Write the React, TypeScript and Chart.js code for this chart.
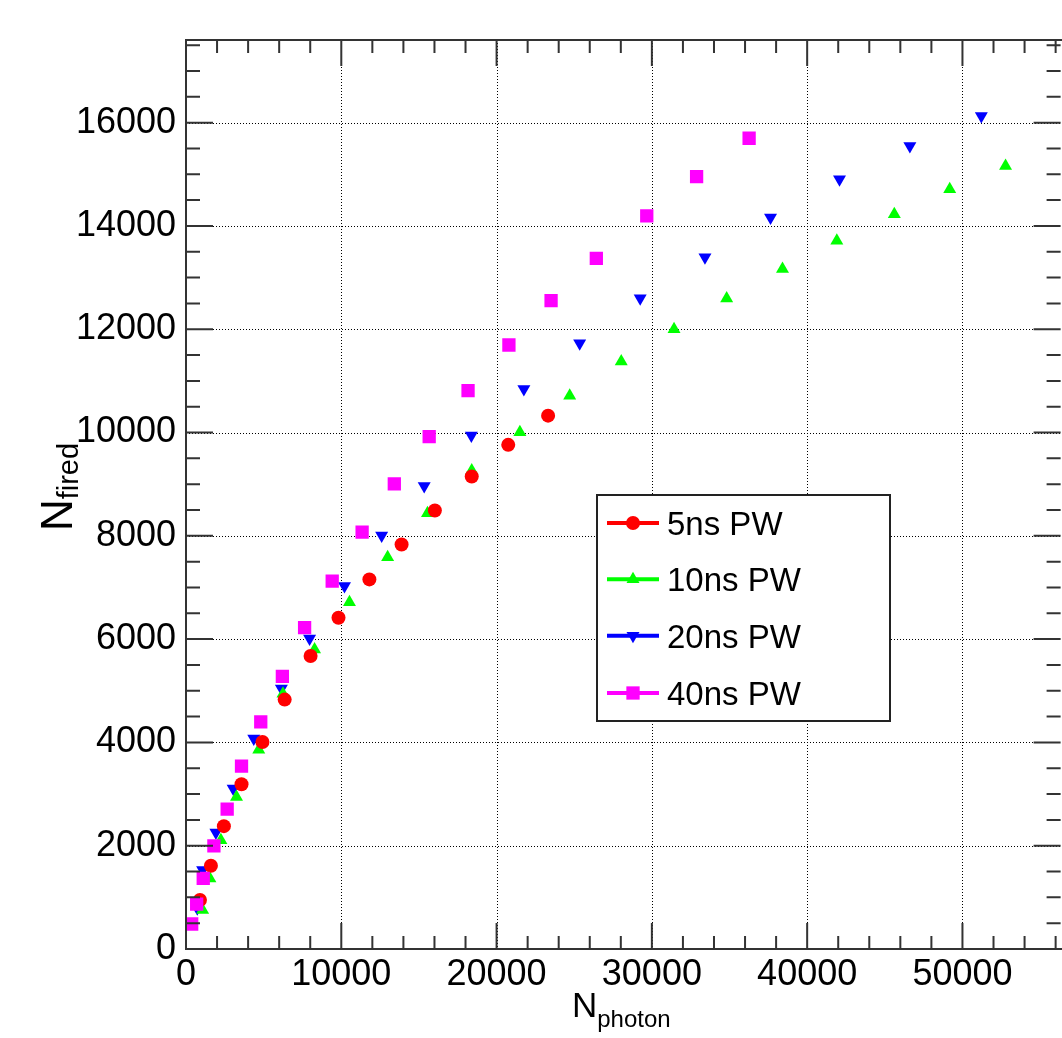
import React, { useEffect, useRef } from 'react';
import { Chart, registerables } from 'chart.js';

Chart.register(...registerables);

// ---------------- data ----------------
const seriesLabels = ['5ns PW', '10ns PW', '20ns PW', '40ns PW'];
const seriesColors = ['#ff0000', '#00ff00', '#0000ff', '#ff00ff'];

const pw5X = [899, 1604, 2439, 3575, 4923, 6354, 8023, 9820, 11809, 13882, 16026, 18400, 20750, 23317];
const pw5Y = [948, 1611, 2379, 3191, 4009, 4829, 5672, 6415, 7156, 7833, 8490, 9148, 9761, 10327];

const pw10X = [1071, 1540, 2246, 3254, 4685, 6245, 8279, 10526, 12984, 15551, 18400, 21500, 24709, 28027, 31428, 34817, 38411, 41910, 45612, 49181, 52775];
const pw10Y = [753, 1364, 2107, 2944, 3859, 4942, 5801, 6716, 7586, 8437, 9263, 10003, 10713, 11376, 12001, 12595, 13165, 13711, 14225, 14709, 15161];

const pw20X = [725, 1071, 1925, 3036, 4364, 6142, 7958, 10205, 12599, 15339, 18375, 21757, 25351, 29247, 33419, 37641, 42083, 46614, 51216];
const pw20Y = [789, 1529, 2258, 3109, 4076, 5043, 6010, 7029, 8008, 8963, 9942, 10845, 11729, 12599, 13392, 14165, 14906, 15550, 16130];

const pw40X = [366, 687, 1110, 1797, 2651, 3575, 4814, 6206, 7637, 9415, 11341, 13414, 15660, 18163, 20794, 23509, 26423, 29671, 32880, 36262];
const pw40Y = [484, 870, 1367, 1998, 2708, 3539, 4396, 5280, 6222, 7123, 8071, 9006, 9921, 10811, 11695, 12552, 13370, 14195, 14955, 15698];

const xTickValues = [0, 10000, 20000, 30000, 40000, 50000];
const yTickValues = [0, 2000, 4000, 6000, 8000, 10000, 12000, 14000, 16000];
const xMinorStep = 2000;
const yMinorStep = 500;
const xMax = 56320;
const yMax = 17600;

const xTitleMain = 'N';
const xTitleSub = 'photon';
const yTitleMain = 'N';
const yTitleSub = 'fired';

// ---------------- layout/style ----------------
const W = 1070;
const H = 1038;
const FONT = '"Liberation Sans", Arial, Helvetica, sans-serif';
const PLOT_LEFT = 186;
const PLOT_TOP = 40;
const PLOT_BOTTOM = 949;
const PLOT_RIGHT = 1063.5;

type Marker = { style: string; radius: number; rotation: number };
const markers: Marker[] = [
  { style: 'circle', radius: 7, rotation: 0 },
  { style: 'triangle', radius: 7.5, rotation: 0 },
  { style: 'triangle', radius: 7.5, rotation: 180 },
  { style: 'rect', radius: 9.4, rotation: 0 },
];

function drawMarker(ctx: CanvasRenderingContext2D, m: Marker, x: number, y: number, color: string) {
  ctx.save();
  ctx.fillStyle = color;
  ctx.beginPath();
  if (m.style === 'circle') {
    ctx.arc(x, y, m.radius, 0, Math.PI * 2);
  } else if (m.style === 'rect') {
    const s = m.radius * Math.SQRT1_2;
    ctx.rect(x - s, y - s, 2 * s, 2 * s);
  } else {
    let rad = (m.rotation * Math.PI) / 180;
    ctx.moveTo(x + Math.sin(rad) * m.radius, y - Math.cos(rad) * m.radius);
    rad += (2 * Math.PI) / 3;
    ctx.lineTo(x + Math.sin(rad) * m.radius, y - Math.cos(rad) * m.radius);
    rad += (2 * Math.PI) / 3;
    ctx.lineTo(x + Math.sin(rad) * m.radius, y - Math.cos(rad) * m.radius);
    ctx.closePath();
  }
  ctx.fill();
  ctx.restore();
}

const rootFramePlugin = {
  id: 'rootFrame',
  beforeDatasetsDraw(chart: any) {
    const { ctx, chartArea: a, scales } = chart;
    const xs = scales.x;
    const ys = scales.y;
    ctx.save();
    ctx.strokeStyle = '#000';
    ctx.lineWidth = 1;
    ctx.setLineDash([1, 2]);
    for (const v of xTickValues) {
      if (v <= 0) continue;
      const px = Math.round(xs.getPixelForValue(v)) + 0.5;
      ctx.beginPath();
      ctx.moveTo(px, a.top);
      ctx.lineTo(px, a.bottom);
      ctx.stroke();
    }
    for (const v of yTickValues) {
      if (v <= 0) continue;
      const py = Math.round(ys.getPixelForValue(v)) + 0.5;
      ctx.beginPath();
      ctx.moveTo(a.left, py);
      ctx.lineTo(a.right, py);
      ctx.stroke();
    }
    ctx.restore();
  },
  afterDraw(chart: any) {
    const { ctx, chartArea: a, scales } = chart;
    const xs = scales.x;
    const ys = scales.y;
    ctx.save();
    // frame (left, top, bottom; right side lies beyond the visible page)
    ctx.strokeStyle = '#333';
    ctx.lineWidth = 2;
    ctx.beginPath();
    ctx.moveTo(a.right + 2, a.top);
    ctx.lineTo(a.left, a.top);
    ctx.lineTo(a.left, a.bottom);
    ctx.lineTo(a.right + 2, a.bottom);
    ctx.stroke();
    // x ticks (bottom + top)
    for (let v = 0; v <= xMax; v += xMinorStep) {
      const px = xs.getPixelForValue(v);
      const len = v % 10000 === 0 ? 26 : 13;
      ctx.beginPath();
      ctx.moveTo(px, a.bottom);
      ctx.lineTo(px, a.bottom - len);
      ctx.moveTo(px, a.top);
      ctx.lineTo(px, a.top + len);
      ctx.stroke();
    }
    // y ticks (left + right)
    for (let v = 0; v <= yMax; v += yMinorStep) {
      const py = ys.getPixelForValue(v);
      const len = v % 2000 === 0 ? 27 : 14;
      ctx.beginPath();
      ctx.moveTo(a.left, py);
      ctx.lineTo(a.left + len, py);
      ctx.moveTo(a.right, py);
      ctx.lineTo(a.right - len, py);
      ctx.stroke();
    }

    // axis titles
    ctx.fillStyle = '#000';
    ctx.textBaseline = 'alphabetic';
    ctx.textAlign = 'left';
    ctx.font = `35px ${FONT}`;
    const wNx = ctx.measureText(xTitleMain).width;
    ctx.fillText(xTitleMain, 572, 1017);
    ctx.font = `24px ${FONT}`;
    ctx.fillText(xTitleSub, 572 + wNx, 1027);

    ctx.save();
    ctx.translate(72, 487);
    ctx.rotate(-Math.PI / 2);
    ctx.font = `44px ${FONT}`;
    const wNy = ctx.measureText(yTitleMain).width;
    ctx.font = `29px ${FONT}`;
    const wSy = ctx.measureText(yTitleSub).width;
    const x0 = -(wNy + wSy) / 2;
    ctx.font = `44px ${FONT}`;
    ctx.fillText(yTitleMain, x0, 0);
    ctx.font = `29px ${FONT}`;
    ctx.fillText(yTitleSub, x0 + wNy, 6);
    ctx.restore();

    // legend
    const lx = 597, ly = 495, lw = 293, lh = 226;
    ctx.fillStyle = '#fff';
    ctx.fillRect(lx, ly, lw, lh);
    ctx.strokeStyle = '#222';
    ctx.lineWidth = 2;
    ctx.strokeRect(lx, ly, lw, lh);
    const rowY = [523, 579.3, 635.7, 693];
    for (let i = 0; i < seriesLabels.length; i++) {
      const y = rowY[i];
      ctx.strokeStyle = seriesColors[i];
      ctx.lineWidth = 4;
      ctx.beginPath();
      ctx.moveTo(607, y);
      ctx.lineTo(659, y);
      ctx.stroke();
      drawMarker(ctx, markers[i], 633, y, seriesColors[i]);
      ctx.fillStyle = '#000';
      ctx.font = `33px ${FONT}`;
      ctx.textBaseline = 'alphabetic';
      ctx.fillText(seriesLabels[i], 667, y + 12);
    }
    ctx.restore();
  },
};

const seriesX = [pw5X, pw10X, pw20X, pw40X];
const seriesY = [pw5Y, pw10Y, pw20Y, pw40Y];
const drawOrder = [1, 2, 3, 0];

export default function App() {
  const canvasRef = useRef<HTMLCanvasElement | null>(null);

  useEffect(() => {
    const canvas = canvasRef.current;
    if (!canvas) return;
    const datasets = seriesLabels.map((label, i) => ({
      label,
      data: seriesX[i].map((x, j) => ({ x, y: seriesY[i][j] })),
      pointStyle: markers[i].style,
      pointRadius: markers[i].radius,
      pointHoverRadius: markers[i].radius,
      rotation: markers[i].rotation,
      backgroundColor: seriesColors[i],
      borderColor: seriesColors[i],
      borderWidth: 0,
      showLine: false,
      order: drawOrder[i],
    }));

    const chart = new Chart(canvas, {
      type: 'scatter',
      data: { datasets } as any,
      options: {
        responsive: false,
        maintainAspectRatio: false,
        animation: false,
        devicePixelRatio: 1,
        layout: { padding: { top: PLOT_TOP, left: 0, right: W - PLOT_RIGHT, bottom: 0 } },
        plugins: { legend: { display: false }, tooltip: { enabled: false }, title: { display: false } },
        scales: {
          x: {
            type: 'linear',
            position: 'bottom',
            min: 0,
            max: xMax,
            afterBuildTicks: (s: any) => {
              s.ticks = xTickValues.map((v) => ({ value: v }));
            },
            afterFit: (s: any) => {
              s.height = H - PLOT_BOTTOM;
              s.paddingLeft = 0;
              s.paddingRight = 0;
            },
            grid: { display: false, drawTicks: false },
            border: { display: false },
            ticks: {
              autoSkip: false,
              maxRotation: 0,
              padding: 4,
              color: '#000',
              font: { family: FONT, size: 36 },
              callback: (v: any) => String(v),
            },
          },
          y: {
            type: 'linear',
            min: 0,
            max: yMax,
            afterBuildTicks: (s: any) => {
              s.ticks = yTickValues.map((v) => ({ value: v }));
            },
            afterFit: (s: any) => {
              s.width = PLOT_LEFT;
              s.paddingTop = 0;
              s.paddingBottom = 0;
            },
            grid: { display: false, drawTicks: false },
            border: { display: false },
            ticks: {
              autoSkip: false,
              padding: 10,
              color: '#000',
              font: { family: FONT, size: 36 },
              callback: (v: any) => String(v),
            },
          },
        },
      } as any,
      plugins: [rootFramePlugin],
    });
    return () => chart.destroy();
  }, []);

  return (
    <div
      style={{
        position: 'absolute',
        left: 0,
        top: 0,
        width: 1062,
        height: 1038,
        overflow: 'hidden',
        background: '#fff',
      }}
    >
      <canvas ref={canvasRef} width={W} height={H} style={{ width: W, height: H, display: 'block' }} />
    </div>
  );
}
